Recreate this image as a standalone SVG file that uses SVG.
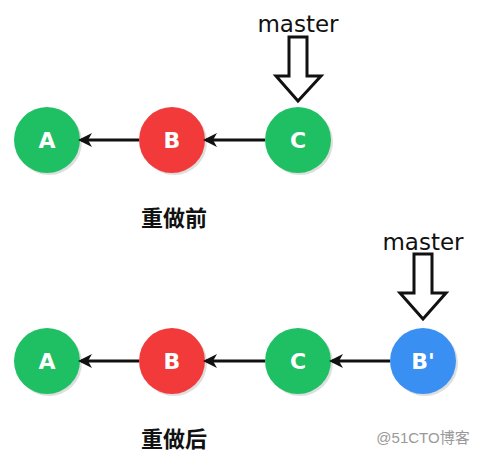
<svg xmlns="http://www.w3.org/2000/svg" width="481" height="458" viewBox="0 0 481 458">
<defs>
<marker id="ah" markerWidth="14" markerHeight="14" refX="11" refY="7" orient="auto" markerUnits="userSpaceOnUse" viewBox="0 0 14 14">
<path d="M0,0 L14,7 L0,14 L4,7 Z" fill="#111"/>
</marker>
</defs>
<style>
.shadow{fill:#c8c8c8;opacity:0.6}
.green{fill:#1fc063}
.red{fill:#f23a3a}
.blue{fill:#3a90f2}
.lbl{font-family:"DejaVu Sans",sans-serif;font-size:22px;fill:#fff;text-anchor:middle;font-weight:bold}
.edge{stroke:#111;stroke-width:3;fill:none}
.ptr{fill:#fff;stroke:#111;stroke-width:3;stroke-linejoin:miter}
.mtext{font-family:"DejaVu Sans",sans-serif;font-size:23px;fill:#111;text-anchor:middle}
.cap{font-family:"Noto Sans CJK SC",sans-serif;font-size:22px;font-weight:bold;fill:#111;text-anchor:middle}
.wm{font-family:"Liberation Sans","Noto Sans CJK SC",sans-serif;font-size:15px;fill:#999;text-anchor:middle}
</style>
<rect width="481" height="458" fill="#fff"/>
<g id="top-A"><circle class="shadow" cx="49" cy="142" r="33"/><circle class="green" cx="47" cy="140" r="33"/><text class="lbl" x="47" y="148">A</text></g>
<g id="top-B"><circle class="shadow" cx="174" cy="142" r="33"/><circle class="red" cx="172" cy="140" r="33"/><text class="lbl" x="172" y="148">B</text></g>
<g id="top-C"><circle class="shadow" cx="300" cy="142" r="33"/><circle class="green" cx="298" cy="140" r="33"/><text class="lbl" x="298" y="148">C</text></g>
<g id="top-master"><text class="mtext" x="298" y="32">master</text><path class="ptr" d="M289,37 L307,37 L307,76 L321,76 L298,101 L276,76 L289,76 Z"/></g>
<g id="cap-before"><text class="cap" x="174" y="226">重做前</text></g>
<g id="bot-A"><circle class="shadow" cx="49" cy="363" r="33"/><circle class="green" cx="47" cy="361" r="33"/><text class="lbl" x="47" y="369">A</text></g>
<g id="bot-B"><circle class="shadow" cx="174" cy="363" r="33"/><circle class="red" cx="172" cy="361" r="33"/><text class="lbl" x="172" y="369">B</text></g>
<g id="bot-C"><circle class="shadow" cx="300" cy="363" r="33"/><circle class="green" cx="298" cy="361" r="33"/><text class="lbl" x="298" y="369">C</text></g>
<g id="bot-Bp"><circle class="shadow" cx="425" cy="363" r="33"/><circle class="blue" cx="423" cy="361" r="33"/><text class="lbl" x="423" y="369">B'</text></g>
<g id="bot-master"><text class="mtext" x="423" y="250">master</text><path class="ptr" d="M414,254 L432,254 L432,293 L446,293 L423,319 L400,293 L414,293 Z"/></g>
<g id="cap-after"><text class="cap" x="174" y="447">重做后</text></g>
<text class="wm" x="423" y="443">@51CTO博客</text>
<g id="connectors">
<line class="edge" x1="139" y1="140" x2="81" y2="140" marker-end="url(#ah)"/>
<line class="edge" x1="265" y1="140" x2="206" y2="140" marker-end="url(#ah)"/>
<line class="edge" x1="139" y1="361" x2="81" y2="361" marker-end="url(#ah)"/>
<line class="edge" x1="265" y1="361" x2="206" y2="361" marker-end="url(#ah)"/>
<line class="edge" x1="390" y1="361" x2="332" y2="361" marker-end="url(#ah)"/>
</g>
</svg>
